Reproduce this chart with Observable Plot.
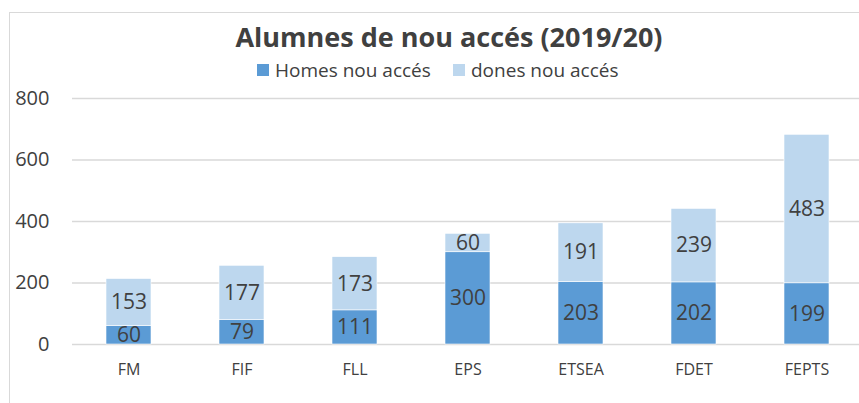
<!DOCTYPE html>
<html>
<head>
<meta charset="utf-8">
<script src="https://cdn.jsdelivr.net/npm/d3@7"></script>
<script src="https://cdn.jsdelivr.net/npm/@observablehq/plot@0.6"></script>
<style>
  html, body { margin: 0; padding: 0; background: #fff; overflow: hidden; }
  #wrap { position: relative; width: 859px; height: 403px; font-family: "Open Sans", sans-serif; color: #404040; }
  #frame { position: absolute; left: 9px; top: 12px; width: 900px; height: 500px; border: 1px solid #d9d9d9; box-sizing: border-box; }
  #title { position: absolute; left: 0; width: 898px; top: 18px; text-align: center; font-weight: 700; font-size: 27px; line-height: normal; color: #404040; white-space: nowrap; }
  #legend { position: absolute; left: 257px; top: 57px; font-size: 19px; color: #404040; white-space: nowrap; }
  .item { position: absolute; top: 0; display: flex; align-items: center; height: 26px; }
  .sw { width: 12px; height: 12px; margin-right: 6px; }
  #chart { position: absolute; left: 0; top: 0; }
</style>
</head>
<body>
<div id="wrap">
  <div id="frame"></div>
  <div id="chart"></div>
  <div id="title"></div>
  <div id="legend"></div>
</div>
<script>
const categories = ["FM", "FIF", "FLL", "EPS", "ETSEA", "FDET", "FEPTS"];
const homes = [60, 79, 111, 300, 203, 202, 199];
const dones = [153, 177, 173, 60, 191, 239, 483];
const seriesNames = ["Homes nou accés", "dones nou accés"];
const seriesColors = ["#5B9BD5", "#BDD7EE"];
const yTicks = [0, 200, 400, 600, 800];
const titleText = "Alumnes de nou accés (2019/20)";

const rows = [];
categories.forEach((c, i) => rows.push({cat: c, series: seriesNames[0], value: homes[i]}));
categories.forEach((c, i) => rows.push({cat: c, series: seriesNames[1], value: dones[i]}));

document.getElementById("title").textContent = titleText;
const legend = document.getElementById("legend");
const legendX = [0, 196];
seriesNames.forEach((s, i) => {
  const it = document.createElement("div");
  it.className = "item";
  it.style.left = legendX[i] + "px";
  const sw = document.createElement("div");
  sw.className = "sw";
  sw.style.background = seriesColors[i];
  const t = document.createElement("span");
  t.textContent = s;
  it.appendChild(sw); it.appendChild(t);
  legend.appendChild(it);
});

const chart = Plot.plot({
  width: 859,
  height: 403,
  marginTop: 98,
  marginBottom: 59,
  marginLeft: 72,
  marginRight: 0,
  style: {fontFamily: "Open Sans, sans-serif", background: "transparent", overflow: "visible"},
  x: {domain: categories, range: [72, 863], paddingInner: 0.6, paddingOuter: 0.3, label: null},
  y: {domain: [0, 800], ticks: yTicks, label: null},
  color: {domain: seriesNames, range: seriesColors},
  marks: [
    Plot.ruleY(yTicks, {stroke: "#d9d9d9", strokeWidth: 1.5}),
    Plot.barY(rows, Plot.stackY({x: "cat", y: "value", fill: "series", z: "series", stroke: "white", strokeWidth: 0.6})),
    Plot.textY(rows, Plot.stackY({x: "cat", y: "value", z: "series", text: d => String(d.value), fill: "#404040", fontSize: 21})),
    Plot.axisY({ticks: yTicks, tickSize: 0, tickPadding: 23, fontSize: 20, color: "#404040", label: null}),
    Plot.axisX({tickSize: 0, tickPadding: 19, fontSize: 16, color: "#404040", label: null})
  ]
});
document.getElementById("chart").appendChild(chart);
</script>
</body>
</html>
